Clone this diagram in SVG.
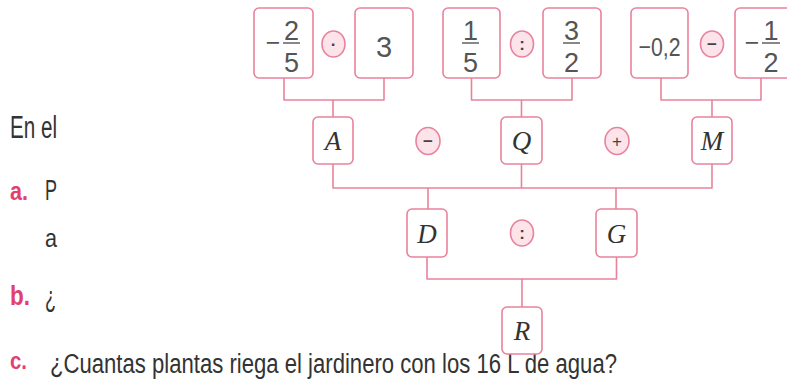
<svg xmlns="http://www.w3.org/2000/svg" width="787" height="383" viewBox="0 0 787 383">
<style>
.box{fill:#ffffff;stroke:#e9829c;stroke-width:1.6}
.op{fill:#fde4ea;stroke:#e9829c;stroke-width:1.6}
.ln{fill:none;stroke:#e9829c;stroke-width:1.6;stroke-linejoin:round}
.num{font-family:"Liberation Sans","DejaVu Sans",sans-serif;fill:#555555;text-anchor:middle}
.bar{stroke:#555555;stroke-width:1.4}
.var{font-family:"Liberation Serif","DejaVu Serif",serif;font-style:italic;fill:#333333;text-anchor:middle;font-size:27px}
.sym{font-family:"Liberation Sans","DejaVu Sans",sans-serif;fill:#444444;text-anchor:middle;font-weight:bold;font-size:17px}
.txt{font-family:"Liberation Sans","DejaVu Sans",sans-serif;fill:#333333}
.lab{font-family:"Liberation Sans","DejaVu Sans",sans-serif;fill:#e2406f;font-weight:bold}
</style>

<g id="page-text">
<text class="txt" x="10" y="138" font-size="31" textLength="47" lengthAdjust="spacingAndGlyphs">En el</text>
<text class="lab" x="10" y="200" font-size="26" textLength="18" lengthAdjust="spacingAndGlyphs">a.</text>
<text class="txt" x="45" y="200" font-size="29" textLength="12" lengthAdjust="spacingAndGlyphs">P</text>
<text class="txt" x="45" y="247" font-size="25" textLength="12" lengthAdjust="spacingAndGlyphs">a</text>
<text class="lab" x="10" y="305" font-size="27" textLength="20" lengthAdjust="spacingAndGlyphs">b.</text>
<text class="txt" x="45" y="307" font-size="29" textLength="11" lengthAdjust="spacingAndGlyphs">¿</text>
<text class="lab" x="10" y="369" font-size="24" textLength="17" lengthAdjust="spacingAndGlyphs">c.</text>
<text class="txt" x="50" y="373" font-size="27" textLength="567" lengthAdjust="spacingAndGlyphs">¿Cuantas plantas riega el jardinero con los 16 L de agua?</text>
</g>

<g id="connectors">
<path class="ln" d="M284,78 V100 H384 V78 M333,100 V117"/>
<path class="ln" d="M471.5,78 V100 H572 V78 M521.5,100 V117"/>
<path class="ln" d="M661,78 V100 H761 V78 M712,100 V117"/>
<path class="ln" d="M333,164 V188 H712 V164 M521.5,164 V188"/>
<path class="ln" d="M428,188 V209 M616,188 V209"/>
<path class="ln" d="M427,257 V279 H616.5 V257 M522,279 V307"/>
</g>

<g id="n-m25">
<rect class="box" x="254" y="8" width="59" height="70" rx="5"/>
<text class="num" x="273" y="51" font-size="25">−</text>
<line class="bar" x1="283" y1="43" x2="300" y2="43"/>
<text class="num" x="291.5" y="40" font-size="27">2</text>
<text class="num" x="291.5" y="72" font-size="27">5</text>
</g>
<g id="op-dot"><ellipse class="op" cx="333.5" cy="44" rx="11.5" ry="13"/><text class="sym" x="333.5" y="50">·</text></g>
<g id="n-3">
<rect class="box" x="355" y="8" width="58" height="70" rx="5"/>
<text class="num" x="384" y="57" font-size="29">3</text>
</g>
<g id="n-15">
<rect class="box" x="443" y="8" width="57" height="70" rx="5"/>
<line class="bar" x1="462" y1="43" x2="479" y2="43"/>
<text class="num" x="470.5" y="40" font-size="27">1</text>
<text class="num" x="470.5" y="72" font-size="27">5</text>
</g>
<g id="op-div1"><ellipse class="op" cx="522" cy="44" rx="11.5" ry="13"/><text class="sym" x="522" y="50">:</text></g>
<g id="n-32">
<rect class="box" x="543" y="8" width="58" height="70" rx="5"/>
<line class="bar" x1="563" y1="43" x2="580" y2="43"/>
<text class="num" x="571.5" y="40" font-size="27">3</text>
<text class="num" x="571.5" y="72" font-size="27">2</text>
</g>
<g id="n-02">
<rect class="box" x="631" y="8" width="57" height="70" rx="5"/>
<text class="num" x="659.5" y="56" font-size="26" textLength="42" lengthAdjust="spacingAndGlyphs">−0,2</text>
</g>
<g id="op-minus1"><ellipse class="op" cx="712" cy="44" rx="11.5" ry="13"/><text class="sym" x="712" y="50">−</text></g>
<g id="n-m12">
<rect class="box" x="735" y="8" width="57" height="70" rx="5"/>
<text class="num" x="752" y="51" font-size="25">−</text>
<line class="bar" x1="762" y1="43" x2="780" y2="43"/>
<text class="num" x="771" y="40" font-size="27">1</text>
<text class="num" x="771" y="72" font-size="27">2</text>
</g>

<g id="n-A"><rect class="box" x="313" y="117" width="40" height="47" rx="5"/><text class="var" x="333" y="150">A</text></g>
<g id="op-minus2"><ellipse class="op" cx="428" cy="141" rx="12" ry="13.5"/><text class="sym" x="428" y="147">−</text></g>
<g id="n-Q"><rect class="box" x="501" y="117" width="41" height="47" rx="5"/><text class="var" x="521.5" y="150">Q</text></g>
<g id="op-plus"><ellipse class="op" cx="617" cy="141" rx="12" ry="13.5"/><text class="sym" x="617" y="147" style="font-weight:normal">+</text></g>
<g id="n-M"><rect class="box" x="692" y="117" width="40" height="47" rx="5"/><text class="var" x="712" y="150">M</text></g>

<g id="n-D"><rect class="box" x="407" y="209" width="40" height="48" rx="5"/><text class="var" x="427" y="243">D</text></g>
<g id="op-div2"><ellipse class="op" cx="522" cy="233" rx="11.5" ry="13"/><text class="sym" x="522" y="239">:</text></g>
<g id="n-G"><rect class="box" x="596" y="209" width="41" height="48" rx="5"/><text class="var" x="616.5" y="243">G</text></g>

<g id="n-R"><rect class="box" x="502" y="307" width="40" height="47" rx="5"/><text class="var" x="522" y="340">R</text></g>
</svg>
